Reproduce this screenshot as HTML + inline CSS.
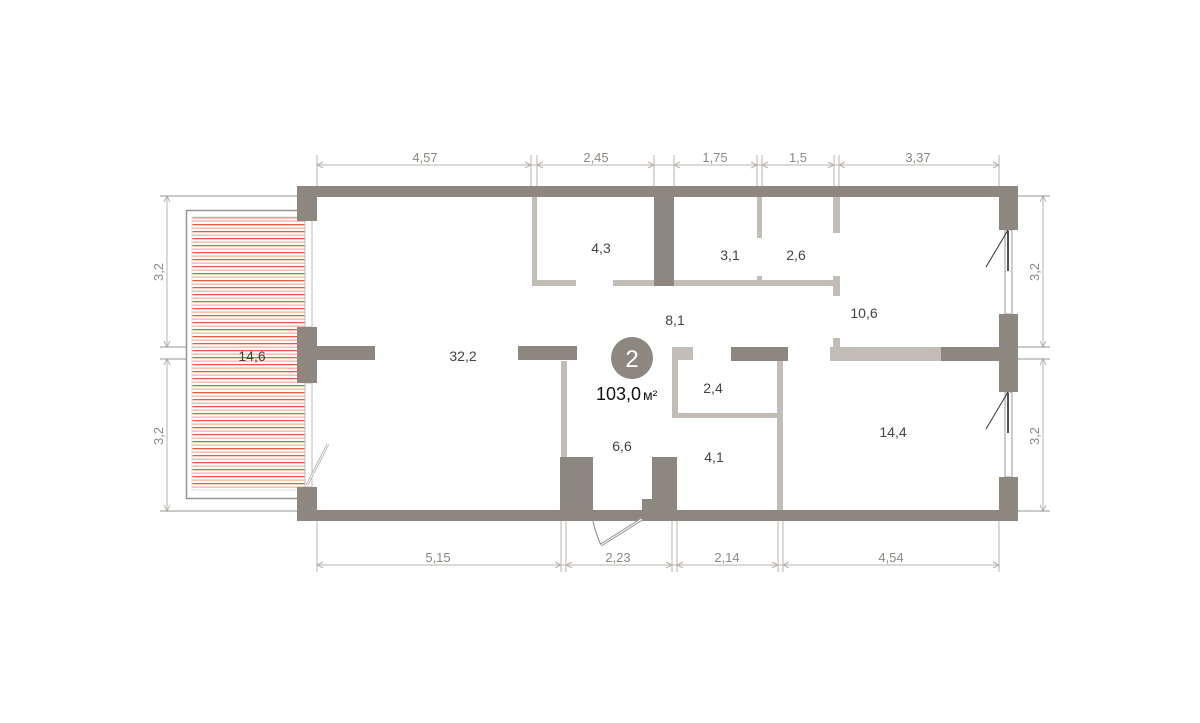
<!DOCTYPE html>
<html><head><meta charset="utf-8"><style>
html,body{margin:0;padding:0;background:#fff;}
svg{display:block;}
text{font-family:"Liberation Sans",sans-serif;}
</style></head><body>
<svg width="1200" height="723" viewBox="0 0 1200 723" xmlns="http://www.w3.org/2000/svg">
<defs>
<pattern id="h" width="10" height="7" patternUnits="userSpaceOnUse">
<rect width="10" height="7" fill="#fff"/>
<rect y="0" width="10" height="1.3" fill="#ef5a48"/>
<rect y="3.5" width="10" height="1.3" fill="#f6b2a6"/>
</pattern>
</defs>
<!-- balcony -->
<rect x="186.5" y="210.5" width="112" height="288" fill="none" stroke="#9a948e" stroke-width="1.5"/>
<rect x="192" y="217" width="113" height="273" fill="url(#h)"/>
<rect x="192" y="217" width="113" height="273" fill="none" stroke="#ddd" stroke-width="1"/>
<!-- left windows -->
<rect x="305" y="220" width="7" height="107" fill="#fff" stroke="#bbb" stroke-width="1"/>
<rect x="305" y="383" width="7" height="104" fill="#fff" stroke="#bbb" stroke-width="1"/>
<line x1="307" y1="485" x2="328" y2="444" stroke="#aaa" stroke-width="2.5"/>
<line x1="307" y1="485" x2="328" y2="444" stroke="#fff" stroke-width="1"/>
<!-- right windows -->
<rect x="1005" y="230" width="7" height="84" fill="#fff" stroke="#999" stroke-width="1"/>
<rect x="1005" y="392" width="7" height="85" fill="#fff" stroke="#999" stroke-width="1"/>
<rect x="1007" y="231" width="2" height="40" fill="#555"/>
<rect x="1007" y="393" width="2" height="40" fill="#555"/>
<line x1="1008" y1="230" x2="986" y2="267" stroke="#333" stroke-width="1"/>
<line x1="1008" y1="392" x2="986" y2="429" stroke="#333" stroke-width="1"/>

<g fill="#c3bdb7">
<rect x="532" y="197" width="5" height="89"/>
<rect x="532" y="280" width="44" height="6"/>
<rect x="613" y="280" width="41" height="6"/>
<rect x="674" y="280" width="160" height="6"/>
<rect x="833" y="276" width="7" height="20"/>
<rect x="757" y="197" width="5" height="41"/>
<rect x="757" y="276" width="5" height="6"/>
<rect x="833" y="197" width="7" height="36"/>
<rect x="833" y="338" width="7" height="12"/>
<rect x="830" y="347" width="111" height="14"/>
<rect x="672" y="347" width="21" height="13"/>
<rect x="672" y="347" width="6" height="71"/>
<rect x="672" y="413" width="110" height="5"/>
<rect x="777" y="361" width="6" height="149"/>
<rect x="561" y="361" width="6" height="96"/>
</g>
<g fill="#8e877f">
<rect x="297" y="186" width="721" height="11"/>
<rect x="297" y="510" width="721" height="11"/>
<rect x="297" y="186" width="20" height="35"/>
<rect x="297" y="327" width="20" height="56"/>
<rect x="297" y="487" width="20" height="34"/>
<rect x="999" y="186" width="19" height="44"/>
<rect x="999" y="314" width="19" height="78"/>
<rect x="999" y="477" width="19" height="44"/>
<rect x="317" y="346" width="58" height="14"/>
<rect x="518" y="346" width="59" height="14"/>
<rect x="654" y="197" width="20" height="89"/>
<rect x="731" y="347" width="57" height="14"/>
<rect x="941" y="347" width="58" height="14"/>
<rect x="560" y="457" width="33" height="64"/>
<rect x="652" y="457" width="25" height="64"/>
<rect x="642" y="499" width="12" height="22"/>
</g>
<!-- door -->
<path d="M593 521 Q596 535 601 545" fill="none" stroke="#888" stroke-width="1"/>
<line x1="601" y1="545" x2="642" y2="519" stroke="#999" stroke-width="3"/>
<line x1="601" y1="545" x2="642" y2="519" stroke="#fff" stroke-width="1"/>

<!-- dimensions -->
<g stroke="#b8b3ae" stroke-width="1" fill="none">
<line x1="317" y1="165" x2="999" y2="165"/>
<line x1="317" y1="155" x2="317" y2="186"/>
<line x1="531" y1="155" x2="531" y2="186"/><line x1="537" y1="155" x2="537" y2="186"/>
<line x1="654" y1="155" x2="654" y2="186"/><line x1="674" y1="155" x2="674" y2="186"/>
<line x1="757" y1="155" x2="757" y2="186"/><line x1="762" y1="155" x2="762" y2="186"/>
<line x1="834" y1="155" x2="834" y2="186"/><line x1="839" y1="155" x2="839" y2="186"/>
<line x1="999" y1="155" x2="999" y2="186"/>
<line x1="317" y1="565" x2="999" y2="565"/>
<line x1="317" y1="521" x2="317" y2="572"/>
<line x1="561" y1="521" x2="561" y2="572"/><line x1="566" y1="521" x2="566" y2="572"/>
<line x1="672" y1="521" x2="672" y2="572"/><line x1="677" y1="521" x2="677" y2="572"/>
<line x1="778" y1="521" x2="778" y2="572"/><line x1="783" y1="521" x2="783" y2="572"/>
<line x1="999" y1="521" x2="999" y2="572"/>
<line x1="167" y1="196" x2="167" y2="347"/><line x1="167" y1="359" x2="167" y2="511"/>
<line x1="1043" y1="196" x2="1043" y2="347"/><line x1="1043" y1="359" x2="1043" y2="511"/>
<!-- arrowheads -->
<path d="M323 162 L317 165 L323 168 M525 162 L531 165 L525 168 M543 162 L537 165 L543 168 M648 162 L654 165 L648 168 M680 162 L674 165 L680 168 M751 162 L757 165 L751 168 M768 162 L762 165 L768 168 M828 162 L834 165 L828 168 M845 162 L839 165 L845 168 M993 162 L999 165 L993 168"/>
<path d="M323 562 L317 565 L323 568 M555 562 L561 565 L555 568 M572 562 L566 565 L572 568 M666 562 L672 565 L666 568 M683 562 L677 565 L683 568 M772 562 L778 565 L772 568 M789 562 L783 565 L789 568 M993 562 L999 565 L993 568"/>
<path d="M164 202 L167 196 L170 202 M164 341 L167 347 L170 341 M164 365 L167 359 L170 365 M164 505 L167 511 L170 505"/>
<path d="M1040 202 L1043 196 L1046 202 M1040 341 L1043 347 L1046 341 M1040 365 L1043 359 L1046 365 M1040 505 L1043 511 L1046 505"/>
</g>
<g stroke="#9a948e" stroke-width="1">
<line x1="160" y1="196" x2="297" y2="196"/>
<line x1="160" y1="347" x2="186" y2="347"/>
<line x1="160" y1="359" x2="186" y2="359"/>
<line x1="160" y1="511" x2="297" y2="511"/>
<line x1="1018" y1="196" x2="1050" y2="196"/>
<line x1="1018" y1="347" x2="1050" y2="347"/>
<line x1="1018" y1="359" x2="1050" y2="359"/>
<line x1="1018" y1="511" x2="1050" y2="511"/>
</g>
<g fill="#8e8882" font-size="13" text-anchor="middle">
<text x="425" y="162">4,57</text>
<text x="596" y="162">2,45</text>
<text x="715" y="162">1,75</text>
<text x="798" y="162">1,5</text>
<text x="918" y="162">3,37</text>
<text x="438" y="562">5,15</text>
<text x="618" y="562">2,23</text>
<text x="727" y="562">2,14</text>
<text x="891" y="562">4,54</text>
<text transform="translate(163,272) rotate(-90)">3,2</text>
<text transform="translate(163,436) rotate(-90)">3,2</text>
<text transform="translate(1039,272) rotate(-90)">3,2</text>
<text transform="translate(1039,436) rotate(-90)">3,2</text>
</g>
<g fill="#444" font-size="14" text-anchor="middle">
<text x="252" y="361">14,6</text>
<text x="463" y="361">32,2</text>
<text x="601" y="253">4,3</text>
<text x="730" y="260">3,1</text>
<text x="796" y="260">2,6</text>
<text x="675" y="325">8,1</text>
<text x="864" y="318">10,6</text>
<text x="713" y="393">2,4</text>
<text x="622" y="451">6,6</text>
<text x="714" y="462">4,1</text>
<text x="893" y="437">14,4</text>
</g>
<circle cx="632" cy="358" r="21" fill="#8e877f"/>
<text x="632" y="367" fill="#fff" font-size="24" text-anchor="middle">2</text>
<text x="596" y="400" fill="#111" font-size="18">103,0<tspan font-size="14" dx="2">м²</tspan></text>
</svg>
</body></html>
